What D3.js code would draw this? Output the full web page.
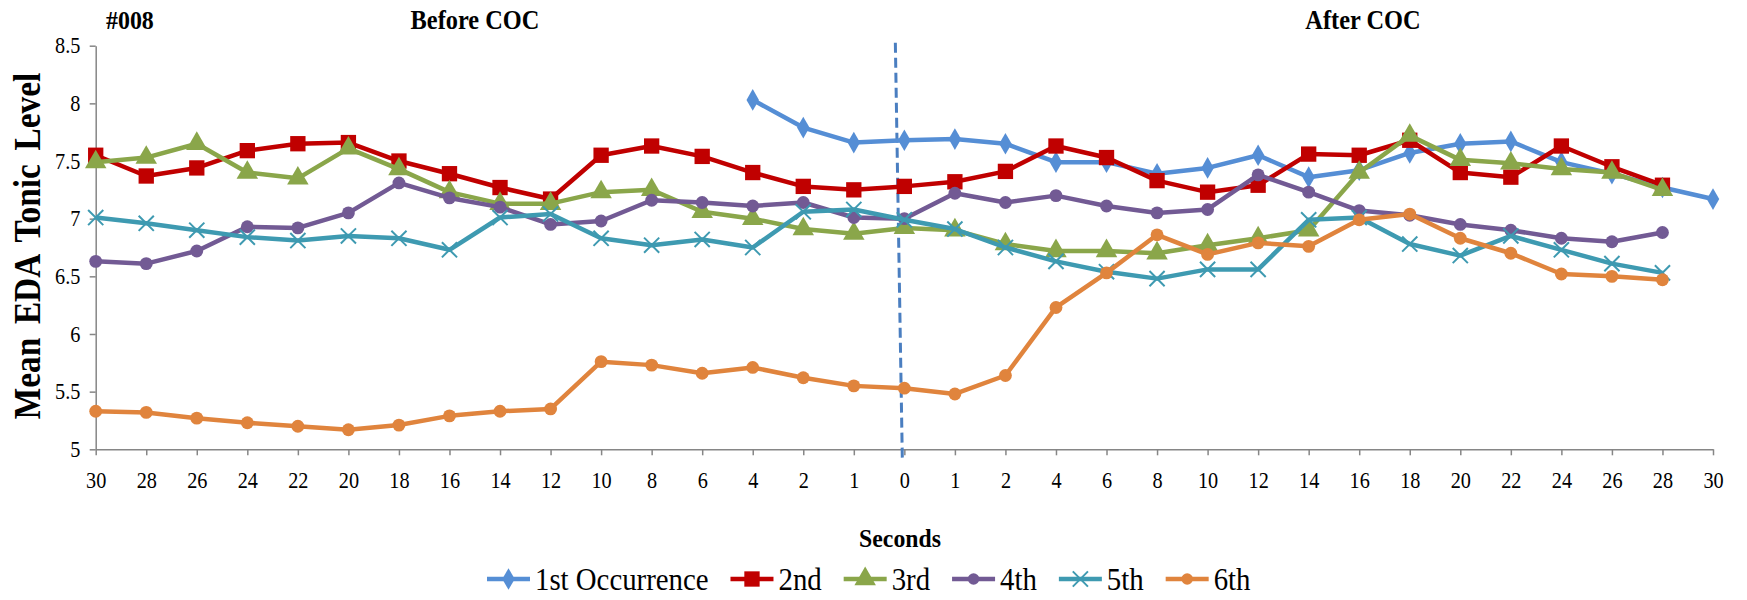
<!DOCTYPE html>
<html>
<head>
<meta charset="utf-8">
<script src="https://cdn.jsdelivr.net/npm/d3@7"></script>
<style>
  html, body { margin: 0; padding: 0; background: #ffffff; }
  svg { display: block; }
  text { font-family: "Liberation Serif", "Times New Roman", serif; fill: #000; }
</style>
</head>
<body>
<svg id="chart" width="1747" height="600"></svg>
<script>
// ---------- data ----------
const xLabels = ["30","28","26","24","22","20","18","16","14","12","10","8","6","4","2","1",
                 "0","1","2","4","6","8","10","12","14","16","18","20","22","24","26","28","30"];
const yTicks = [5, 5.5, 6, 6.5, 7, 7.5, 8, 8.5];
const seriesNames = ["1st Occurrence", "2nd", "3rd", "4th", "5th", "6th"];
const seriesColors = ["#558ED5", "#C00000", "#8AA64A", "#725A94", "#3E9AB1", "#E0843D"];
const seriesMarkers = ["diamond", "square", "triangle", "circle", "x", "circle"];

const occ1 = [null,null,null,null,null,null,null,null,null,null,null,null,null,
  8.03,7.79,7.66,7.68,7.69,7.65,7.49,7.49,7.39,7.44,7.55,7.36,7.42,7.57,7.65,7.67,7.49,7.39,7.27,7.17];
const occ2 = [7.55,7.37,7.44,7.59,7.65,7.66,7.50,7.39,7.27,7.17,7.55,7.63,7.54,7.40,7.28,7.25,
  7.28,7.32,7.41,7.63,7.53,7.33,7.23,7.29,7.56,7.55,7.68,7.40,7.36,7.63,7.45,7.29,null];
const occ3 = [7.49,7.53,7.65,7.40,7.35,7.61,7.43,7.23,7.13,7.13,7.23,7.25,7.06,7.00,6.91,6.87,
  6.92,6.90,6.78,6.72,6.72,6.70,6.77,6.83,6.90,7.40,7.72,7.51,7.48,7.43,7.40,7.25,null];
const occ4 = [6.63,6.61,6.72,6.93,6.92,7.05,7.31,7.18,7.10,6.95,6.98,7.16,7.14,7.11,7.14,7.01,
  7.00,7.22,7.14,7.20,7.11,7.05,7.08,7.38,7.23,7.07,7.03,6.95,6.90,6.83,6.80,6.88,null];
const occ5 = [7.01,6.96,6.90,6.84,6.81,6.85,6.83,6.73,7.01,7.04,6.83,6.77,6.82,6.75,7.06,7.08,
  6.99,6.91,6.75,6.63,6.54,6.48,6.56,6.56,6.99,7.01,6.78,6.68,6.85,6.73,6.61,6.53,null];
const occ6 = [5.33,5.32,5.27,5.23,5.20,5.17,5.21,5.29,5.33,5.35,5.76,5.73,5.66,5.71,5.62,5.55,
  5.53,5.48,5.64,6.23,6.53,6.86,6.69,6.79,6.76,6.99,7.04,6.83,6.70,6.52,6.50,6.47,null];
const seriesValues = [occ1, occ2, occ3, occ4, occ5, occ6];

const panelId = "#008";
const beforeLabel = "Before COC";
const afterLabel = "After COC";
const xTitle = "Seconds";
const yTitle = "Mean EDA Tonic Level";
const cocIndex = 16;

// ---------- layout ----------
const svg = d3.select("#chart");
const plotLeft = 95.7, plotRight = 1713, plotTop = 45.7, plotBottom = 449.3;
const SX = 0.9; // horizontal glyph compression seen in reference

const x = d3.scalePoint().domain(d3.range(xLabels.length)).range([plotLeft, plotRight]).padding(0);
const y = d3.scaleLinear().domain([5, 8.5]).range([plotBottom, plotTop]);

// axes
const axisColor = "#868686";
const gx = svg.append("g").attr("transform", `translate(0,${plotBottom})`)
  .call(d3.axisBottom(x).tickFormat(i => xLabels[i]).tickSizeInner(6).tickSizeOuter(0).tickPadding(12));
const gy = svg.append("g").attr("transform", `translate(${plotLeft},0)`)
  .call(d3.axisLeft(y).tickValues(yTicks).tickFormat(d3.format("")).tickSizeInner(6).tickSizeOuter(0).tickPadding(11));
[gx, gy].forEach(g => {
  g.selectAll("path.domain").attr("stroke", axisColor).attr("stroke-width", 1.5);
  g.selectAll(".tick line").attr("stroke", axisColor).attr("stroke-width", 1.5);
  g.selectAll(".tick text").attr("font-family", "Liberation Serif").attr("font-size", 22.5).attr("fill", "#000");
});
gx.selectAll(".tick text").attr("transform", `scale(${SX},1)`).attr("dy", "0.9em");
gy.selectAll(".tick text").attr("transform", `scale(${SX},1)`);

// ---------- COC dashed line ----------
svg.append("line")
  .attr("x1", x(cocIndex) - 9).attr("y1", y(8.5) - 3)
  .attr("x2", x(cocIndex) - 2).attr("y2", plotBottom + 11)
  .attr("stroke", "#4A7EC0").attr("stroke-width", 3).attr("stroke-dasharray", "10,5");

// ---------- markers ----------
const symbolX = {
  draw(ctx, size) {
    const r = Math.sqrt(size) / 2;
    ctx.moveTo(-r, -r); ctx.lineTo(r, r);
    ctx.moveTo(r, -r); ctx.lineTo(-r, r);
  }
};
function markerPath(kind, scale) {
  const s = scale || 1;
  if (kind === "diamond") return d3.symbol(d3.symbolDiamond, 135 * s)();
  if (kind === "square") return d3.symbol(d3.symbolSquare, 235 * s)();
  if (kind === "triangle") return d3.symbol(d3.symbolTriangle, 200 * s)();
  if (kind === "circle") return d3.symbol(d3.symbolCircle, 130 * s)();
  if (kind === "x") return d3.symbol(symbolX, 230 * s)();
}
function drawMarker(g, kind, color, scale) {
  const p = g.append("path").attr("d", markerPath(kind, scale));
  if (kind === "x") p.attr("fill", "none").attr("stroke", color).attr("stroke-width", 2);
  else p.attr("fill", color);
  return p;
}

// ---------- series ----------
const line = d3.line().defined(d => d.v != null).x(d => x(d.i)).y(d => y(d.v));
seriesValues.forEach((vals, s) => {
  const pts = vals.map((v, i) => ({ i, v }));
  const g = svg.append("g");
  g.append("path").datum(pts).attr("d", line)
    .attr("fill", "none").attr("stroke", seriesColors[s]).attr("stroke-width", 4.5)
    .attr("stroke-linejoin", "round");
  pts.filter(d => d.v != null).forEach(d => {
    const mg = g.append("g").attr("transform", `translate(${x(d.i)},${y(d.v)})`);
    drawMarker(mg, seriesMarkers[s], seriesColors[s], 1);
  });
});

// ---------- titles ----------
function addText(tx, ty, str, size, weight, anchor, sx) {
  return svg.append("text")
    .attr("transform", `translate(${tx},${ty}) scale(${sx || SX},1)`)
    .attr("font-size", size).attr("font-weight", weight || "normal")
    .attr("text-anchor", anchor || "start").text(str);
}
addText(106, 29, panelId, 26, "bold", "start", 0.92);
addText(475, 29, beforeLabel, 26.5, "bold", "middle", 0.92);
addText(1363, 29, afterLabel, 26.5, "bold", "middle", 0.92);
addText(900, 547, xTitle, 25, "bold", "middle", 0.95);

svg.append("text")
  .attr("transform", `translate(40,246) rotate(-90) scale(0.9,1)`)
  .attr("font-size", 37).attr("font-weight", "bold").attr("text-anchor", "middle")
  .attr("word-spacing", 6).text(yTitle);

// ---------- legend ----------
const legend = svg.append("g");
let lx = 487;
const ly = 579;
seriesNames.forEach((name, s) => {
  const g = legend.append("g").attr("transform", `translate(${lx},${ly})`);
  g.append("line").attr("x1", 0).attr("x2", 43).attr("y1", 0).attr("y2", 0)
    .attr("stroke", seriesColors[s]).attr("stroke-width", 4.5);
  const mg = g.append("g").attr("transform", "translate(21.5,0)");
  drawMarker(mg, seriesMarkers[s], seriesColors[s], s === 3 || s === 5 ? 0.8 : 1);
  const t = g.append("text").attr("transform", `translate(48,11) scale(${SX},1)`)
    .attr("font-size", 32).text(name);
  const w = t.node().getComputedTextLength() * SX;
  lx += 48 + w + 22;
});
</script>
</body>
</html>
